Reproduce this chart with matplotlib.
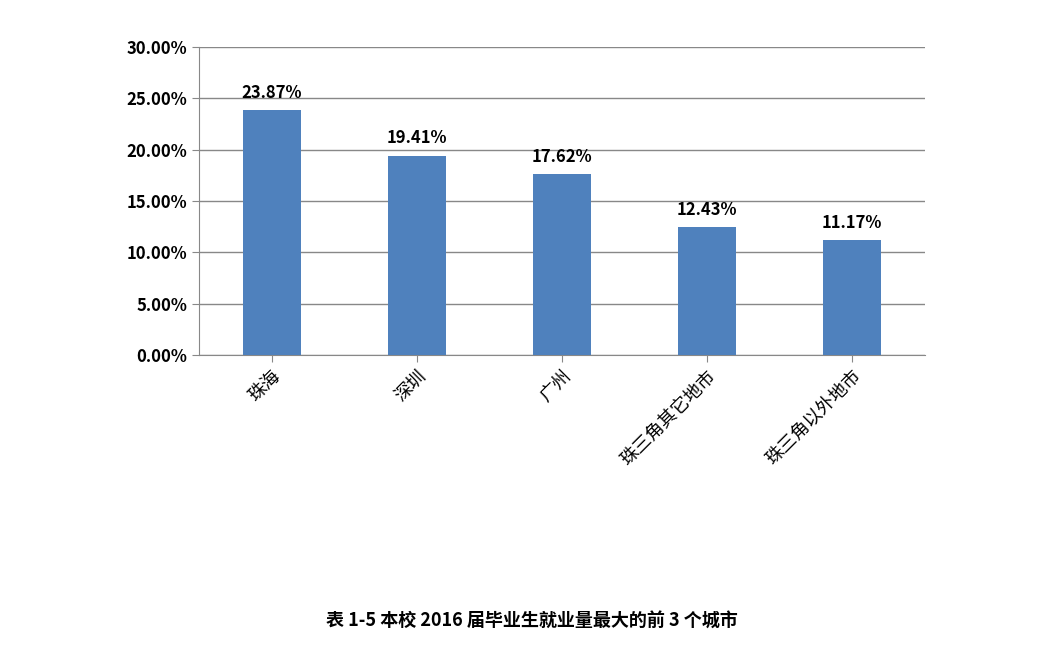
import matplotlib
matplotlib.use("Agg")
import matplotlib.pyplot as plt
from matplotlib.ticker import FuncFormatter

plt.rcParams['font.family'] = ['Noto Sans CJK SC', 'DejaVu Sans']

categories = ["珠海", "深圳", "广州", "珠三角其它地市", "珠三角以外地市"]
values = [23.87, 19.41, 17.62, 12.43, 11.17]
title = "表 1-5 本校 2016 届毕业生就业量最大的前 3 个城市"

fig = plt.figure(figsize=(10.64, 6.7), dpi=100)
ax = fig.add_axes([0.187, 0.47, 0.682, 0.46])
x = range(len(categories))
ax.bar(x, values, width=0.4, color="#4F81BD", zorder=3)
for i, v in zip(x, values):
    ax.text(i, v + 0.8, f"{v:.2f}%", ha="center", va="bottom", fontsize=12, fontweight="bold")
ax.set_ylim(0, 30)
ax.set_xlim(-0.5, len(categories) - 0.5)
ax.set_yticks([0, 5, 10, 15, 20, 25, 30])
ax.yaxis.set_major_formatter(FuncFormatter(lambda v, p: f"{v:.2f}%"))
ax.grid(axis="y", color="#888888", linewidth=1, zorder=0)
for s in ["top", "right"]:
    ax.spines[s].set_visible(False)
ax.spines["left"].set_color("#888888")
ax.spines["bottom"].set_color("#888888")
ax.tick_params(axis="y", length=5, color="#888888", labelsize=12)
for lab in ax.get_yticklabels():
    lab.set_fontweight("bold")
ax.set_xticks(list(x))
ax.set_xticklabels(categories, rotation=45, ha="right", rotation_mode="anchor", fontsize=13)
ax.tick_params(axis="x", length=5, color="#888888")
fig.text(0.5, 0.073, title, ha="center", va="center", fontsize=13, fontweight="bold")
fig.savefig("out.png", dpi=100, facecolor="white")
